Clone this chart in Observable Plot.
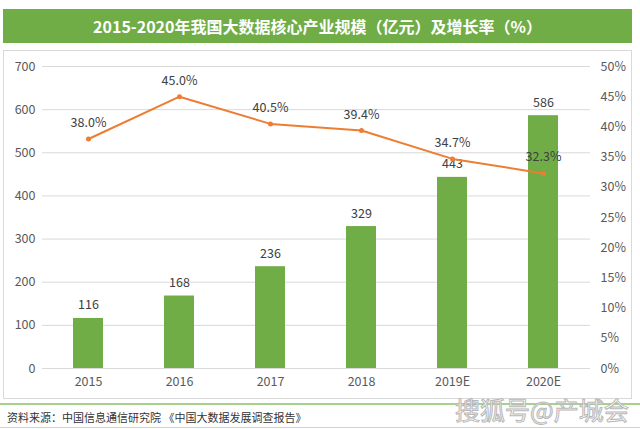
<!DOCTYPE html>
<html>
<head>
<meta charset="utf-8">
<script src="https://cdn.jsdelivr.net/npm/d3@7"></script>
<script src="https://cdn.jsdelivr.net/npm/@observablehq/plot@0.6"></script>
<style>
  html, body { margin: 0; padding: 0; background: #fff; width: 640px; height: 429px; overflow: hidden; font-family: "Noto Sans CJK SC", "Noto Sans", sans-serif; }
  #banner { position: absolute; left: 3px; top: 9px; width: 629px; height: 34px; background: #70ad47; color: #fff; font-weight: bold; font-size: 16px; line-height: 34px; text-align: center; }
  #box { position: absolute; left: 3px; top: 50px; width: 627px; height: 347px; border: 1px solid #d9d9d9; }
  #chart { position: absolute; left: 0; top: 0; }
  #gline { position: absolute; left: 0; top: 403px; width: 640px; height: 2px; background: #a9d18e; }
  #footer { position: absolute; left: 7px; top: 408px; font-size: 11px; color: #333; line-height: 18px; white-space: nowrap; }
  #bline { position: absolute; left: 0; top: 427px; width: 640px; height: 1px; background: #d0d0d0; }
  #wm { position: absolute; left: 455px; top: 394px; font-size: 25px; line-height: 30px; color: rgba(255,255,255,0.85); -webkit-text-stroke: 1px #b8b8b8; white-space: nowrap; }
</style>
</head>
<body>
<div id="banner">2015-2020年我国大数据核心产业规模（亿元）及增长率（%）</div>
<div id="box"><div id="chart"></div></div>
<div id="gline"></div>
<div id="footer">资料来源：中国信息通信研究院 《中国大数据发展调查报告》</div>
<div id="bline"></div>
<div id="wm">搜狐号@产城会</div>
<script>
const years = ["2015", "2016", "2017", "2018", "2019E", "2020E"];
const scaleValues = [116, 168, 236, 329, 443, 586];
const growthRates = [38.0, 45.0, 40.5, 39.4, 34.7, 32.3];
const leftTicks = [0, 100, 200, 300, 400, 500, 600, 700];
const rightTicks = [0, 5, 10, 15, 20, 25, 30, 35, 40, 45, 50];

const ratio = 700 / 50; // right axis 50% maps to left 700
const data = years.map((y, i) => ({ year: y, value: scaleValues[i], rate: growthRates[i] }));

const font = "Noto Sans CJK SC, Noto Sans, sans-serif";
const chart = Plot.plot({
  width: 627,
  height: 347,
  marginTop: 15,
  marginBottom: 30,
  marginLeft: 38,
  marginRight: 41,
  style: { fontFamily: font, fontSize: "12.5px", color: "#595959", background: "transparent" },
  x: { domain: years, paddingInner: 0.67, paddingOuter: 0.335, label: null },
  y: { domain: [0, 700], label: null },
  marks: [
    Plot.ruleY(leftTicks, { stroke: "#d9d9d9", strokeWidth: 1 }),
    Plot.barY(data, { x: "year", y: "value", fill: "#70ad47" }),
    Plot.text(data, { x: "year", y: "value", text: d => String(d.value), dy: -13, fill: "#404040", fontSize: 12.5 }),
    Plot.line(data, { x: "year", y: d => d.rate * ratio, stroke: "#ed7d31", strokeWidth: 2 }),
    Plot.dot(data, { x: "year", y: d => d.rate * ratio, fill: "#ed7d31", r: 2.5 }),
    Plot.text(data, { x: "year", y: d => d.rate * ratio, text: d => d.rate.toFixed(1) + "%", dy: -16, fill: "#404040", fontSize: 12.5 }),
    Plot.axisY({ ticks: leftTicks, tickSize: 0, tickPadding: 7, label: null, fill: "#595959", fontSize: 12.5 }),
    Plot.axisY({ anchor: "right", ticks: rightTicks.map(t => t * ratio), tickFormat: d => Math.round(d / ratio) + "%", tickSize: 0, tickPadding: 10, label: null, fill: "#595959", fontSize: 12.5 }),
    Plot.axisX({ tickSize: 0, tickPadding: 9, label: null, fill: "#595959", fontSize: 12.5 })
  ]
});
document.getElementById("chart").appendChild(chart);
</script>
</body>
</html>
